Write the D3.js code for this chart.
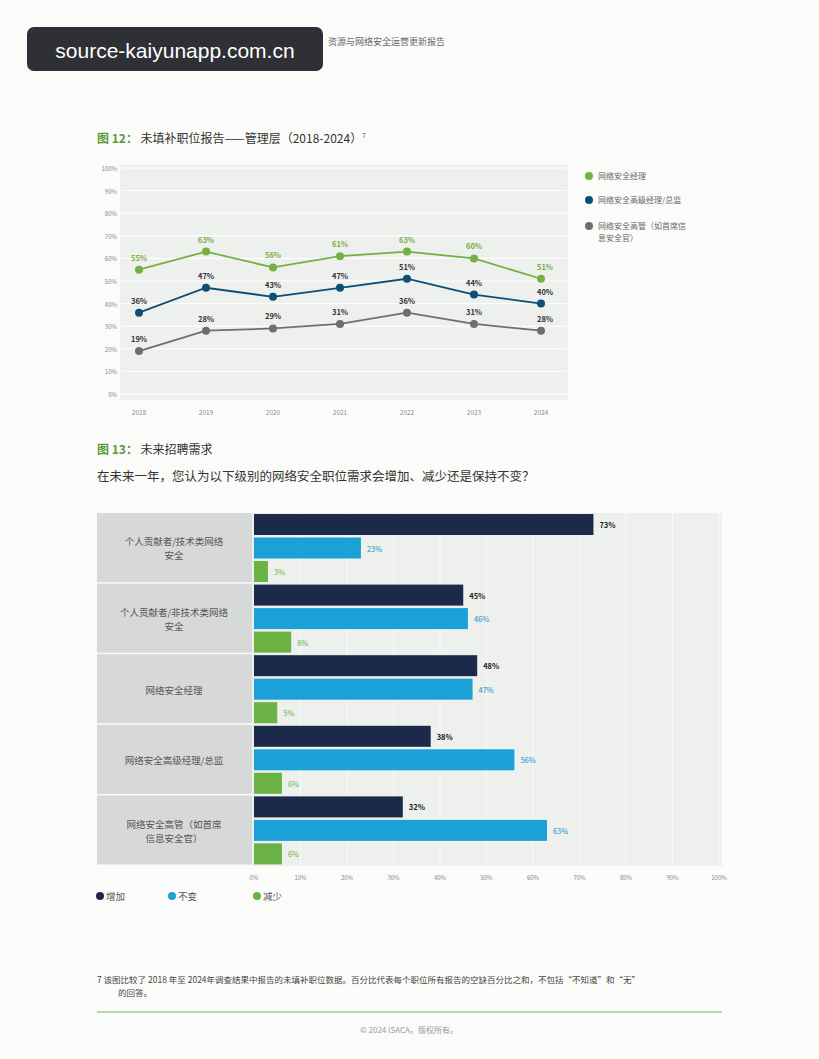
<!DOCTYPE html><html><head><meta charset="utf-8"><script src="https://cdn.jsdelivr.net/npm/d3@7"></script>
<style>body{margin:0;background:#fbfcfa}svg{font-family:"Noto Sans CJK SC","Liberation Serif",serif}</style></head><body><svg id="c" width="819" height="1059"></svg>
<script>
const years=["2018","2019","2020","2021","2022","2023","2024"];
const lineNames=["网络安全经理","网络安全高级经理/总监","网络安全高管（如首席信息安全官）"];
const mgr=[55,63,56,61,63,60,51];
const senior=[36,47,43,47,51,44,40];
const exec=[19,28,29,31,36,31,28];
const lineColors=["#76b043","#0e4e74","#6d6e70"];
const yTicks=[0,10,20,30,40,50,60,70,80,90,100];
const cats=["个人贡献者/技术类网络\n安全","个人贡献者/非技术类网络\n安全","网络安全经理","网络安全高级经理/总监","网络安全高管（如首席\n信息安全官）"];
const increase=[73,45,48,38,32];
const same=[23,46,47,56,63];
const decrease=[3,8,5,6,6];
const barNames=["增加","不变","减少"];
const barColors=["#1b2a4a","#1ba0d8","#6ab244"];
const labelColors=["#222","#1b8fc4","#6ab244"];

const svg=d3.select("#c");
svg.append("text").attr("x",328).attr("y",45).attr("font-size",9).attr("fill","#666").text("资源与网络安全运营更新报告");
const wm=svg.append("g");
wm.append("rect").attr("x",27).attr("y",27).attr("width",296).attr("height",44).attr("rx",7).attr("fill","#2f3035");
wm.append("text").attr("x",175).attr("y",58).attr("text-anchor","middle").attr("fill","#fff").attr("font-size",21).attr("font-family","Liberation Sans, sans-serif").text("source-kaiyunapp.com.cn");

svg.append("text").attr("x",97).attr("y",143).attr("font-size",12).attr("fill","#333").html('<tspan fill="#5a9a3a" font-weight="bold">图 12：</tspan> 未填补职位报告——管理层（2018-2024）<tspan font-size="6" dy="-5">7</tspan>');

const x=d3.scalePoint().domain(years).range([139,541]);
const y=d3.scaleLinear().domain([0,100]).range([394,168]);
svg.append("rect").attr("x",120).attr("y",165).attr("width",448).attr("height",235).attr("fill","#eef0ee");
yTicks.forEach(t=>{svg.append("line").attr("x1",122).attr("x2",566).attr("y1",y(t)).attr("y2",y(t)).attr("stroke","#fff").attr("stroke-width",1);
 svg.append("text").attr("x",117).attr("y",y(t)+3).attr("text-anchor","end").attr("font-size",6).attr("fill","#888").text(t+"%");});
years.forEach(yr=>svg.append("text").attr("x",x(yr)).attr("y",415).attr("text-anchor","middle").attr("font-size",6.5).attr("fill","#888").text(yr));
[mgr,senior,exec].forEach((s,i)=>{
 svg.append("path").datum(s).attr("fill","none").attr("stroke",lineColors[i]).attr("stroke-width",1.8)
  .attr("d",d3.line().x((d,j)=>x(years[j])).y(d=>y(d)));
 s.forEach((d,j)=>{svg.append("circle").attr("cx",x(years[j])).attr("cy",y(d)).attr("r",4).attr("fill",lineColors[i]);
  svg.append("text").attr("x",x(years[j])+(j==6?4:0)).attr("y",y(d)-9).attr("text-anchor","middle").attr("font-size",7.5).attr("font-weight","bold").attr("fill",i==0?"#76b043":"#333").text(d+"%");});
});
[[176,["网络安全经理"]],[200,["网络安全高级经理/总监"]],[226,["网络安全高管（如首席信","息安全官）"]]].forEach((l,i)=>{
 svg.append("circle").attr("cx",589).attr("cy",l[0]).attr("r",4).attr("fill",lineColors[i]);
 l[1].forEach((t,k)=>svg.append("text").attr("x",598).attr("y",l[0]+3+k*12).attr("font-size",8).attr("fill","#666").text(t));
});

svg.append("text").attr("x",97).attr("y",454).attr("font-size",12).attr("fill","#333").html('<tspan fill="#5a9a3a" font-weight="bold">图 13：</tspan> 未来招聘需求');
svg.append("text").attr("x",97).attr("y",481).attr("font-size",12.5).attr("fill","#333").text("在未来一年，您认为以下级别的网络安全职位需求会增加、减少还是保持不变？");
const bx=d3.scaleLinear().domain([0,100]).range([254,719]);
const gy=d3.scaleBand().domain(cats).range([513,866]);
svg.append("rect").attr("x",252).attr("y",513).attr("width",470).attr("height",353).attr("fill","#eef0ee");
d3.range(10,101,10).forEach(t=>svg.append("line").attr("x1",bx(t)).attr("x2",bx(t)).attr("y1",513).attr("y2",866).attr("stroke","#f8f9f8"));
cats.forEach((c,i)=>{
 const g0=gy(c);
 svg.append("rect").attr("x",97).attr("y",g0).attr("width",155).attr("height",gy.bandwidth()-1.5).attr("fill","#d7d9d8");
 const lines=c.split("\n");
 lines.forEach((t,k)=>svg.append("text").attr("x",174).attr("y",g0+gy.bandwidth()/2+4+(k-(lines.length-1)/2)*14).attr("text-anchor","middle").attr("font-size",9.5).attr("fill","#555").text(t));
 [increase,same,decrease].forEach((s,j)=>{
  const yy=g0+1+j*23.5;
  svg.append("rect").attr("x",bx(0)).attr("y",yy).attr("width",bx(s[i])-bx(0)).attr("height",21).attr("fill",barColors[j]);
  svg.append("text").attr("x",bx(s[i])+6).attr("y",yy+14).attr("font-size",7.5).attr("font-weight",j==0?"bold":"normal").attr("fill",labelColors[j]).text(s[i]+"%");
 });
});
d3.range(0,101,10).forEach(t=>svg.append("text").attr("x",bx(t)).attr("y",880).attr("text-anchor","middle").attr("font-size",6).attr("fill","#888").text(t+"%"));
[100,172,257].forEach((lx,i)=>{svg.append("circle").attr("cx",lx).attr("cy",896).attr("r",4).attr("fill",barColors[i]);
 svg.append("text").attr("x",lx+6).attr("y",900).attr("font-size",9.5).attr("fill","#555").text(barNames[i]);});

svg.append("text").attr("x",97).attr("y",983).attr("font-size",8.5).attr("fill","#444").text("7       该图比较了 2018 年至 2024年调查结果中报告的未填补职位数据。百分比代表每个职位所有报告的空缺百分比之和，不包括“不知道”和“无”");
svg.append("text").attr("x",118).attr("y",996).attr("font-size",8.5).attr("fill","#444").text("的回答。");
svg.append("line").attr("x1",97).attr("x2",722).attr("y1",1012).attr("y2",1012).attr("stroke","#7ab55c").attr("stroke-width",1);
svg.append("text").attr("x",409).attr("y",1033).attr("text-anchor","middle").attr("font-size",8).attr("fill","#999").text("© 2024 ISACA。版权所有。");
</script></body></html>
